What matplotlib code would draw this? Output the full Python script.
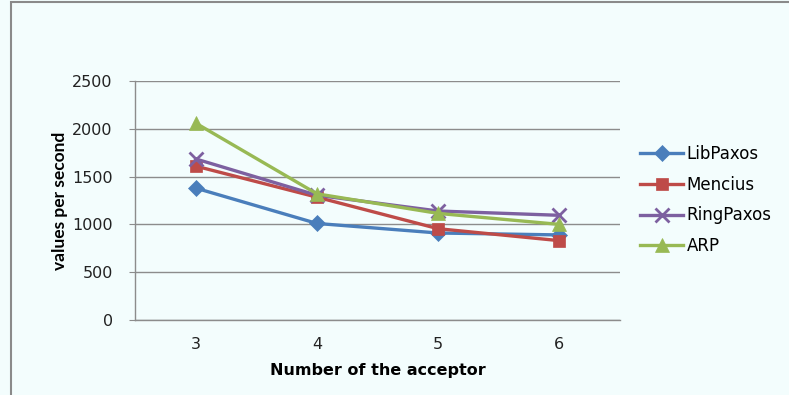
import matplotlib
matplotlib.use("Agg")
import matplotlib.pyplot as plt
from matplotlib.patches import Rectangle

acceptors = [3, 4, 5, 6]
libpaxos = [1380, 1010, 910, 890]
mencius = [1610, 1285, 955, 830]
ringpaxos = [1685, 1305, 1140, 1095]
arp = [2060, 1320, 1115, 1000]

series = [
    ("LibPaxos", libpaxos, "#4a7ebb", "D", 8),
    ("Mencius", mencius, "#be4b48", "s", 9),
    ("RingPaxos", ringpaxos, "#7d60a0", "x", 10),
    ("ARP", arp, "#98b954", "^", 10),
]

plt.rcParams["font.family"] = ["DejaVu Sans"]
bg = "#f3fdfd"
fig = plt.figure(figsize=(7.89, 3.95), dpi=100, facecolor=bg)
ax = fig.add_axes([135 / 789, 1 - 320 / 395, 485 / 789, 239 / 395])
ax.set_facecolor(bg)

for name, vals, color, marker, ms in series:
    ax.plot(acceptors, vals, color=color, lw=2.4, marker=marker, ms=ms,
            mew=2 if marker == "x" else 0.5, mec=color, label=name)

ax.set_xlim(2.5, 6.5)
ax.set_ylim(0, 2500)
ax.set_yticks(range(0, 2501, 500))
ax.set_xticks(acceptors)
ax.grid(axis="y", color="#8c8c8c", lw=1)
ax.set_axisbelow(True)
for s in ("top", "right"):
    ax.spines[s].set_visible(False)
for s in ("left", "bottom"):
    ax.spines[s].set_color("#8c8c8c")
    ax.spines[s].set_linewidth(1)
ax.tick_params(axis="y", length=4, color="#8c8c8c", labelsize=11.5, pad=12,
               labelcolor="#222222")
ax.tick_params(axis="x", length=0, labelsize=11.5, pad=12.5, labelcolor="#222222")

ax.set_xlabel("Number of the acceptor", fontsize=11.5, fontweight="bold", labelpad=7.5)
ax.set_ylabel("values per second", fontsize=12.5, fontweight="bold", labelpad=3,
              family=["Lato", "DejaVu Sans"])

ax.legend(loc="center left", bbox_to_anchor=(625 / 789, 1 - 200 / 395),
          bbox_transform=fig.transFigure, frameon=False, fontsize=12,
          handlelength=2.6, handletextpad=0.2, labelspacing=0.77)

fig.patches.append(Rectangle((11 / 789, -0.1), 1.2, 1 - 2 / 395 + 0.1,
                             transform=fig.transFigure, fill=False,
                             edgecolor="#8a8a8a", lw=1.5))
fig.savefig("out.png", dpi=100, facecolor=bg)
